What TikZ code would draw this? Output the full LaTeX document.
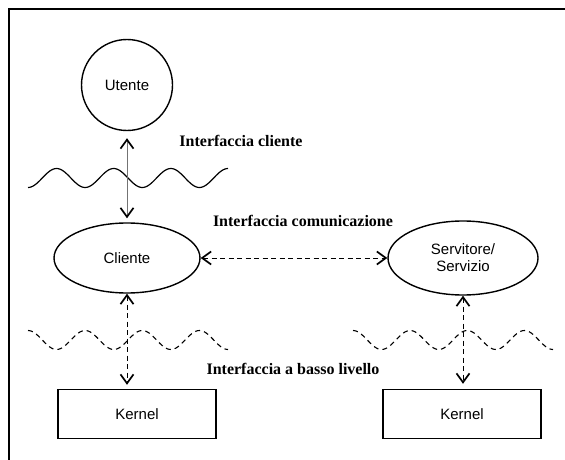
\documentclass[tikz,border=0pt]{standalone}
\usepackage{fontspec}
\setmainfont{Liberation Serif}
\setsansfont{Liberation Sans}
\usetikzlibrary{shapes.geometric,arrows.meta}

\tikzset{
  unit/.style={draw, line width=1.4pt, inner sep=0pt, font=\sffamily\fontsize{15}{17}\selectfont, align=center},
  person/.style={unit, circle, minimum size=91pt},
  proc/.style={unit, ellipse, minimum width=146pt, minimum height=70pt},
  kbox/.style={unit, rectangle, minimum width=158pt, minimum height=49pt},
  lbl/.style={font=\bfseries\fontsize{16}{18}\selectfont, inner sep=0pt},
  barb/.tip={Straight Barb[length=9pt, width=13pt, line width=1.7pt, color=black]},
  solidlink/.style={barb-barb, draw=black!55, line width=1pt},
  dashlink/.style={barb-barb, draw=black, line width=1pt, dash pattern=on 5pt off 3.5pt},
  boundary/.style={line width=1.2pt},
  dboundary/.style={line width=1.1pt, dash pattern=on 5pt off 4pt},
  frame/.style={line width=2.5pt}
}

\begin{document}
\begin{tikzpicture}[x=1pt, y=-1pt]
  \useasboundingbox (0,0) rectangle (565,460);

  % outer frame
  \draw[frame] (565,9) -- (9,9) -- (9,460);

  % components
  \node[person] (utente) at (127,85) {Utente};
  \node[proc] (cliente) at (127,258) {Cliente};
  \node[proc, minimum width=150pt, minimum height=74pt] (servitore) at (463,258) {Servitore/\\Servizio};
  \node[kbox] (kleft) at (137,414) {Kernel};
  \node[kbox] (kright) at (462,414) {Kernel};

  % interface labels
  \node[lbl] (lcli) at (241,141) {Interfaccia cliente};
  \node[lbl] (lcom) at (303,221) {Interfaccia comunicazione};
  \node[lbl] (lbas) at (293,369) {Interfaccia a basso livello};

  % interface boundaries (half wave = 28.57, i.e. 6.3 degrees per unit)
  \draw[boundary] plot[domain=28:228, samples=120, smooth]
    (\x, {178+9.5*cos(6.3*(\x-28))});
  \draw[dboundary] plot[domain=28:228, samples=120, smooth]
    (\x, {340-9.5*cos(6.3*(\x-28))});
  \draw[dboundary] plot[domain=353:553, samples=120, smooth]
    (\x, {340-9.5*cos(6.3*(\x-353))});

  % interactions
  \draw[solidlink, shorten <=7pt, shorten >=4pt] (utente) -- (cliente);
  \draw[dashlink] (cliente) -- (servitore);
  \draw[dashlink, shorten >=4pt] (cliente.south) -- (cliente.south |- kleft.north);
  \draw[dashlink, shorten >=5pt] (servitore.south) -- (servitore.south |- kright.north);
\end{tikzpicture}
\end{document}
